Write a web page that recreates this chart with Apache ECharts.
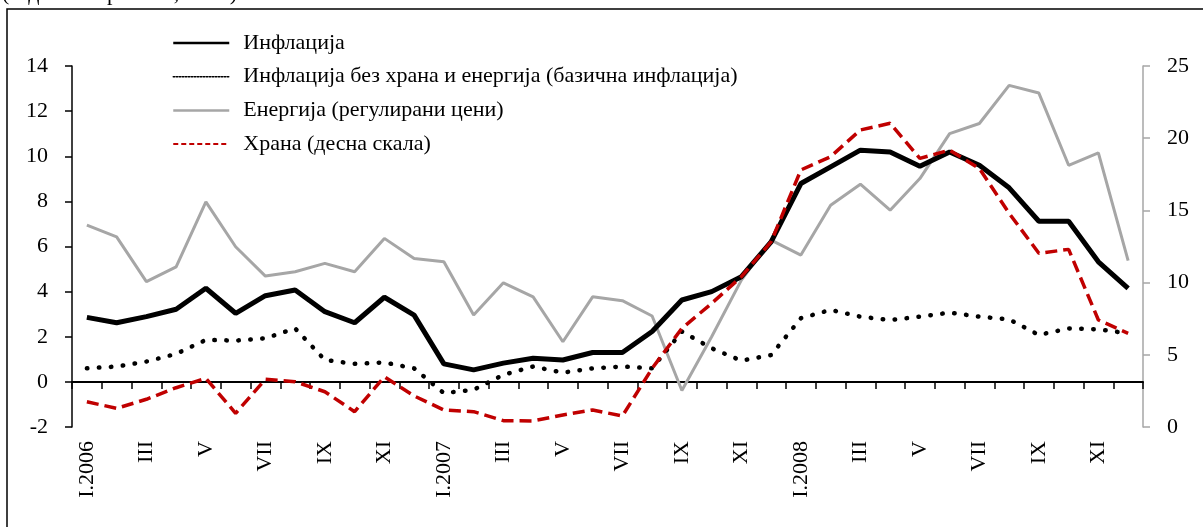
<!DOCTYPE html>
<html>
<head>
<meta charset="utf-8">
<script src="https://cdn.jsdelivr.net/npm/echarts@6/dist/echarts.min.js"></script>
<style>
  html, body { margin: 0; padding: 0; background: #fff; }
  #chart { width: 1203px; height: 527px; }
</style>
</head>
<body>
<div id="chart"></div>
<script>
// месеци I.2006 - XII.2008
const months = [
  'I.2006', 'II', 'III', 'IV', 'V', 'VI', 'VII', 'VIII', 'IX', 'X', 'XI', 'XII',
  'I.2007', 'II', 'III', 'IV', 'V', 'VI', 'VII', 'VIII', 'IX', 'X', 'XI', 'XII',
  'I.2008', 'II', 'III', 'IV', 'V', 'VI', 'VII', 'VIII', 'IX', 'X', 'XI', 'XII'
]

// лева скала
const inflation = [
  2.86, 2.62, 2.89, 3.22, 4.15, 3.04, 3.82, 4.07, 3.11, 2.62, 3.75, 2.96,
  0.8, 0.53, 0.83, 1.05, 0.97, 1.3, 1.3, 2.23, 3.63, 4.0, 4.66, 6.2,
  8.79, 9.53, 10.27, 10.19, 9.56, 10.19, 9.6, 8.6, 7.12, 7.12, 5.32, 4.14
]
const coreInflation = [
  0.6, 0.68, 0.9, 1.24, 1.86, 1.83, 1.93, 2.37, 0.97, 0.8, 0.86, 0.6,
  -0.5, -0.35, 0.31, 0.68, 0.41, 0.6, 0.68, 0.6, 2.23, 1.49, 0.94, 1.19,
  2.82, 3.19, 2.89, 2.74, 2.89, 3.07, 2.89, 2.77, 2.08, 2.37, 2.33, 2.15
]
const energy = [
  6.95, 6.43, 4.44, 5.1, 7.98, 5.99, 4.69, 4.88, 5.25, 4.88, 6.36, 5.47,
  5.32, 2.96, 4.39, 3.77, 1.78, 3.77, 3.6, 2.92, -0.38, 2.0, 4.51, 6.28,
  5.62, 7.83, 8.76, 7.61, 9.01, 11.0, 11.45, 13.14, 12.8, 9.6, 10.15, 5.37
]
// десна скала
const food = [
  1.75, 1.29, 1.92, 2.72, 3.37, 0.95, 3.3, 3.14, 2.44, 1.06, 3.48, 2.15,
  1.18, 1.06, 0.44, 0.42, 0.83, 1.18, 0.76, 4.06, 6.83, 8.56, 10.41, 12.83,
  17.8, 18.72, 20.57, 21.03, 18.6, 19.18, 17.9, 14.8, 12.03, 12.3, 7.41, 6.49
]

const names = [
  'Инфлација',
  'Инфлација без храна и енергија (базична инфлација)',
  'Енергија (регулирани цени)',
  'Храна (десна скала)'
]

const FONT = '"Liberation Serif", "Times New Roman", serif'
const GRAY = '#a6a6a6'
const RED = '#c00000'
const noMarker = { color: 'transparent', borderWidth: 0 }

const chart = echarts.init(document.getElementById('chart'))

chart.setOption({
  animation: false,
  textStyle: { fontFamily: FONT, color: '#000' },
  graphic: [
    {
      type: 'rect',
      shape: { x: 7, y: 9, width: 1300, height: 700 },
      style: { fill: 'none', stroke: '#000', lineWidth: 1.5 },
      silent: true
    },
    {
      type: 'text',
      x: 2,
      y: 5,
      style: {
        text: '(годишна промена, во %)',
        font: '22px ' + FONT,
        fill: '#000',
        verticalAlign: 'bottom'
      },
      silent: true
    }
  ],
  legend: {
    orient: 'vertical',
    left: 167,
    top: 27,
    itemWidth: 56,
    itemHeight: 12,
    itemGap: 11.7,
    textStyle: {
      fontFamily: FONT,
      fontSize: 22,
      lineHeight: 22,
      color: '#000',
      padding: [0, 0, 0, 9]
    },
    data: [
      { name: names[0], itemStyle: noMarker, lineStyle: { width: 2.5, type: 'solid', color: '#000' } },
      { name: names[1], itemStyle: noMarker, lineStyle: { width: 1.5, type: [1.5, 1.5], color: '#000' } },
      { name: names[2], itemStyle: noMarker, lineStyle: { width: 2.5, type: 'solid', color: GRAY } },
      { name: names[3], itemStyle: noMarker, lineStyle: { width: 2, type: [5, 3], color: RED } }
    ]
  },
  grid: { left: 72, right: 60, top: 66, bottom: 100 },
  xAxis: [
    {
      type: 'category',
      data: months,
      position: 'bottom',
      boundaryGap: true,
      axisLine: { show: true, onZero: true, onZeroAxisIndex: 0, lineStyle: { color: '#000', width: 2 } },
      axisTick: { show: true, interval: 0, length: 7, lineStyle: { color: '#000', width: 1.5 } },
      axisLabel: { show: false },
      splitLine: { show: false }
    },
    {
      type: 'category',
      data: months,
      position: 'bottom',
      offset: 0,
      boundaryGap: true,
      axisLine: { show: false, onZero: false },
      axisTick: { show: false },
      axisLabel: {
        interval: 1,
        rotate: 90,
        margin: 14,
        fontSize: 22,
        fontFamily: FONT,
        color: '#000'
      },
      splitLine: { show: false }
    }
  ],
  yAxis: [
    {
      type: 'value',
      position: 'left',
      min: -2,
      max: 14,
      interval: 2,
      axisLine: { show: true, onZero: false, lineStyle: { color: '#000', width: 1.5 } },
      axisTick: { show: true, length: 7, lineStyle: { color: '#000', width: 1.5 } },
      axisLabel: { margin: 24, fontSize: 22, fontFamily: FONT, color: '#000' },
      splitLine: { show: false }
    },
    {
      type: 'value',
      position: 'right',
      min: 0,
      max: 25,
      interval: 5,
      axisLine: { show: true, onZero: false, lineStyle: { color: GRAY, width: 1.5 } },
      axisTick: { show: true, length: 7, lineStyle: { color: GRAY, width: 1.5 } },
      axisLabel: { margin: 24, fontSize: 22, fontFamily: FONT, color: '#000' },
      splitLine: { show: false }
    }
  ],
  series: [
    {
      name: names[2],
      type: 'line',
      xAxisIndex: 0,
      yAxisIndex: 0,
      data: energy,
      symbol: 'none',
      lineStyle: { color: GRAY, width: 3 },
      itemStyle: { color: GRAY }
    },
    {
      name: names[1],
      type: 'line',
      xAxisIndex: 0,
      yAxisIndex: 0,
      data: coreInflation,
      symbol: 'none',
      lineStyle: { color: '#000', width: 4.5, type: [0.5, 11.5], cap: 'round' },
      itemStyle: { color: '#000' }
    },
    {
      name: names[0],
      type: 'line',
      xAxisIndex: 0,
      yAxisIndex: 0,
      data: inflation,
      symbol: 'none',
      lineStyle: { color: '#000', width: 5 },
      itemStyle: { color: '#000' }
    },
    {
      name: names[3],
      type: 'line',
      xAxisIndex: 0,
      yAxisIndex: 1,
      data: food,
      symbol: 'none',
      lineStyle: { color: RED, width: 3.5, type: [12, 6] },
      itemStyle: { color: RED }
    }
  ]
})
</script>
</body>
</html>
